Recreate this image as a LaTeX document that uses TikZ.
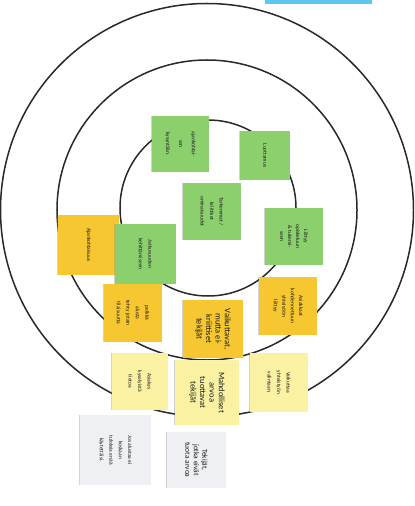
\documentclass[tikz,border=0pt]{standalone}
\usepackage{fontspec}
\setmainfont{Carlito}
\usetikzlibrary{shadows}
\definecolor{notegreen}{RGB}{140,208,110}
\definecolor{noteyellow}{RGB}{246,199,48}
\definecolor{notelight}{RGB}{250,242,162}
\definecolor{notegrey}{RGB}{238,240,243}
\definecolor{topblue}{RGB}{92,200,240}
\definecolor{ringcol}{RGB}{40,40,40}
\tikzset{
  ring/.style={draw=ringcol, line width=1.5bp},
  note/.style={rectangle, rotate=-90, inner sep=1bp, align=center, text=black!90,
    font=\fontsize{5.5}{9.5}\selectfont,
    drop shadow={shadow xshift=-1.5bp, shadow yshift=0bp, opacity=0.35}},
  bignote/.style={note, font=\fontsize{8.5}{9.5}\selectfont},
  gnote/.style={note, fill=notegreen},
  ynote/.style={note, fill=noteyellow},
  lnote/.style={note, fill=notelight},
  wnote/.style={note, fill=notegrey}
}
\begin{document}
\begin{tikzpicture}[x=1bp,y=-1bp]
\useasboundingbox (0,0) rectangle (414,506);
\clip (0,0) rectangle (414,506);
\fill[white] (0,0) rectangle (414,506);
\fill[topblue] (265,-2) rectangle (372,4);
\coordinate (c) at (207,210);
\draw[ring] (c) circle[radius=206.5bp];
\draw[ring] (c) circle[radius=150bp];
\draw[ring] (208,208) circle[radius=88bp];
% green notes
\node[gnote, font=\fontsize{5.5}{13}\selectfont, minimum width=56bp, minimum height=57bp] (g1) at (180.5,144) {ajankohtai-\\sen\\kysyntään.};
\node[gnote, minimum width=49bp, minimum height=50bp] (g2) at (265,155.5) {Luottamus};
\node[gnote, minimum width=57bp, minimum height=58bp] (g3) at (212,211.5) {Tarkemmat /\\kriittiset\\ominaisuudet};
\node[gnote, font=\fontsize{5.5}{8}\selectfont, minimum width=57bp, minimum height=58bp] (g4) at (294,236.5) {Liittyy\\opiskeluun\\\& tukemi-\\seen};
\node[ynote, minimum width=60bp, minimum height=61bp] (y6) at (88.5,245) {Ajankohtaisuus};
\node[gnote, minimum width=60bp, minimum height=61bp] (g5) at (145.5,254) {Jatkuvuuden\\kehittämiseen};
% yellow notes
\node[ynote, minimum width=58bp, minimum height=58bp] (y7) at (133,313) {pelkkä\\alusta\\tehty jotain\\tilaisuutta};
\node[ynote, font=\fontsize{5.5}{8.5}\selectfont, minimum width=58bp, minimum height=58bp] (y9) at (288,306) {Asiakkaat\\kohdennettuun\\yhteisöön\\liittyy};
\node[bignote, fill=noteyellow, minimum width=58bp, minimum height=60bp] (y8) at (213,329) {Vaikuttavat,\\mutta ei-\\kriittiset\\tekijät};
% light yellow notes
\node[lnote, minimum width=57bp, minimum height=56bp] (l10) at (140,381.5) {Asiakas\\kyselyistä\\tietoa};
\node[lnote, minimum width=59bp, minimum height=58bp] (l12) at (279,382.5) {Vaikuttaa\\yhteistyön\\valintaan.};
\node[bignote, fill=notelight, minimum width=65bp, minimum height=64bp] (l11) at (207,392.5) {Mahdolliset\\arvoa\\tuottavat\\tekijät};
% grey notes
\node[wnote, minimum width=70bp, minimum height=71bp] (w13) at (115.5,450) {Jos alustaa ei\\koskaan\\tuloksia enää\\käytettäisi.};
\node[wnote, font=\fontsize{7.5}{8.5}\selectfont, minimum width=56bp, minimum height=59bp] (w14) at (196.5,460) {Tekijät,\\jotka eivät\\tuota arvoa};
\end{tikzpicture}
\end{document}
